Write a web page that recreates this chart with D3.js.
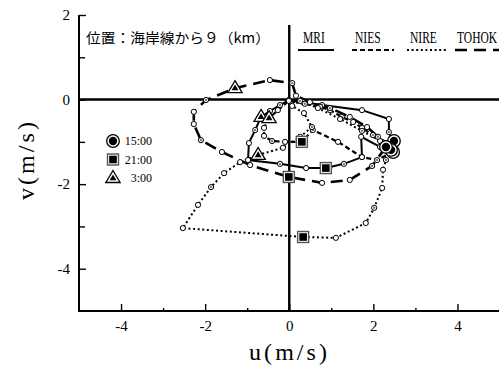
<!DOCTYPE html>
<html>
<head>
<meta charset="utf-8">
<script src="https://cdn.jsdelivr.net/npm/d3@7"></script>
<style>
  body { margin: 0; background: #fff; }
  text { font-family: "Liberation Serif", "DejaVu Serif", serif; fill: #000; }
</style>
</head>
<body>
<svg id="chart" width="499" height="381"></svg>
<script>
// hodograph data (u, v in m/s), hourly from 15:00
const seriesNames = ["MRI", "NIES", "NIRE", "TOHOK"];
const markTimes = ["15:00", "21:00", "3:00"];

const mriU = [2.49, 2.16, 1.71, 1.73, 1.30, 0.87, 0.40, -0.22, -0.98, -0.96, -0.81, -0.67, -0.46, -0.22, -0.01, 0.33, 0.78, 1.73, 2.37, 2.37, 2.44];
const mriV = [-0.98, -1.12, -0.88, -1.36, -1.52, -1.62, -1.62, -1.52, -1.43, -1.03, -0.72, -0.41, -0.27, -0.13, -0.01, -0.06, -0.13, -0.25, -0.46, -0.77, -0.96];
const mriMarks = [0, 5, 11];

const niesU = [2.47, 2.09, 1.73, 1.16, 0.56, 0.30, -0.10, -0.41, -0.60, -0.60, -0.48, -0.27, -0.01, 0.37, 0.73, 0.97, 1.25, 1.52, 1.73, 1.99, 2.21, 2.37];
const niesV = [-1.24, -1.43, -1.36, -1.00, -0.72, -1.00, -1.00, -0.98, -0.86, -0.67, -0.44, -0.25, -0.03, -0.10, -0.17, -0.25, -0.41, -0.53, -0.67, -0.84, -1.00, -1.17];
const niesMarks = [0, 5, 10];

const nireU = [2.42, 2.30, 2.23, 2.21, 2.02, 1.82, 1.11, 0.33, -2.53, -2.17, -1.86, -1.55, -1.17, -0.74, -0.15, 0.26, 0.54, 0.35, 0.07, 0.26, 0.68, 1.21, 1.73, 2.16];
const nireV = [-1.19, -1.43, -1.66, -2.09, -2.56, -2.92, -3.27, -3.25, -3.04, -2.49, -2.07, -1.74, -1.48, -1.31, -1.14, -0.88, -0.65, -0.32, -0.15, -0.03, -0.20, -0.46, -0.74, -0.98];
const nireMarks = [0, 7, 13];

const tohokU = [2.30, 1.97, 1.44, 0.78, -0.01, -0.93, -1.60, -2.10, -2.27, -2.27, -1.98, -1.29, -0.46, 0.07, 0.16, 0.49, 0.97, 1.44, 1.85, 2.11, 2.25];
const tohokV = [-1.12, -1.57, -1.90, -1.97, -1.83, -1.55, -1.24, -0.96, -0.58, -0.29, -0.01, 0.27, 0.46, 0.39, 0.09, -0.06, -0.20, -0.41, -0.65, -0.88, -1.07];
const tohokMarks = [0, 4, 11];

const xTicks = [-4, -2, 0, 2, 4];
const xMinor = [-3, -1, 1, 3];
const yTicks = [2, 0, -2, -4];
const yMinor = [1, -1, -3];

const svg = d3.select("#chart");

const x = d3.scaleLinear().domain([-5, 5]).range([79, 499.5]);
const y = d3.scaleLinear().domain([-5, 2]).range([311, 15]);

const dashes = { MRI: null, NIES: "5,3", NIRE: "2,2.6", TOHOK: "12,7" };
const widths = { MRI: 2, NIES: 2.2, NIRE: 2, TOHOK: 2.6 };

const series = [
  { name: "MRI", u: mriU, v: mriV, marks: mriMarks },
  { name: "NIES", u: niesU, v: niesV, marks: niesMarks },
  { name: "NIRE", u: nireU, v: nireV, marks: nireMarks },
  { name: "TOHOK", u: tohokU, v: tohokV, marks: tohokMarks }
].map(s => ({ ...s, pts: s.u.map((d, i) => ({ u: d, v: s.v[i], i: i })) }));

const fmt = d => String(d);

// axes
const gx = svg.append("g").attr("transform", "translate(0,311)")
  .call(d3.axisBottom(x).tickValues(xTicks).tickSize(-7).tickPadding(9).tickFormat(fmt));
const gx2 = svg.append("g").attr("transform", "translate(0,311)")
  .call(d3.axisBottom(x).tickValues(xMinor).tickSize(-3).tickFormat(""));

const gy = svg.append("g").attr("transform", "translate(79,0)")
  .call(d3.axisLeft(y).tickValues(yTicks).tickSize(-7).tickPadding(9).tickFormat(fmt));
const gy2 = svg.append("g").attr("transform", "translate(79,0)")
  .call(d3.axisLeft(y).tickValues(yMinor).tickSize(-6).tickFormat(""));

svg.selectAll(".domain").remove();
svg.selectAll(".tick line").attr("stroke", "#000").attr("stroke-width", 1.4);
[gx, gy].forEach(g => g.selectAll(".tick text")
  .style("font-family", "'Liberation Serif', serif")
  .style("font-size", "15px"));

// frame lines
svg.append("line").attr("x1", x(-5)).attr("x2", x(-5)).attr("y1", y(2)).attr("y2", y(-5))
  .attr("stroke", "#000").attr("stroke-width", 2);
svg.append("line").attr("x1", x(-5) - 1).attr("x2", x(5)).attr("y1", y(-5)).attr("y2", y(-5))
  .attr("stroke", "#000").attr("stroke-width", 2);
// zero lines
svg.append("line").attr("x1", x(-5)).attr("x2", x(5)).attr("y1", y(0)).attr("y2", y(0))
  .attr("stroke", "#000").attr("stroke-width", 2.4);
svg.append("line").attr("x1", x(0)).attr("x2", x(0)).attr("y1", 25).attr("y2", y(-5))
  .attr("stroke", "#000").attr("stroke-width", 2.4);

// lines
const line = d3.line().x(d => x(d.u)).y(d => y(d.v));
svg.append("g").selectAll("path")
  .data(series)
  .enter()
  .append("path")
  .attr("d", d => line(d.pts))
  .attr("fill", "none")
  .attr("stroke", "#000")
  .attr("stroke-width", d => widths[d.name])
  .attr("stroke-dasharray", d => dashes[d.name]);

// small hourly circles
series.forEach(s => {
  const small = s.pts.filter(p => s.marks.indexOf(p.i) < 0);
  const g = svg.append("g");
  g.selectAll("circle")
    .data(small)
    .enter()
    .append("circle")
    .attr("cx", d => x(d.u))
    .attr("cy", d => y(d.v))
    .attr("r", 2.6)
    .attr("fill", "#fff")
    .attr("stroke", "#000")
    .attr("stroke-width", 1);
  g.selectAll("circle.dot")
    .data(small.filter(d => d.i % 3 == 1))
    .enter()
    .append("circle")
    .attr("cx", d => x(d.u))
    .attr("cy", d => y(d.v))
    .attr("r", 1.2)
    .attr("fill", "#777");
});

function drawMark(g, k, cx, cy) {
  if (k == 0) {
    g.append("circle").attr("cx", cx).attr("cy", cy).attr("r", 6.3)
      .attr("fill", "#fff").attr("stroke", "#000").attr("stroke-width", 1.3);
    g.append("circle").attr("cx", cx).attr("cy", cy).attr("r", 4.2).attr("fill", "#000");
  } else if (k == 1) {
    g.append("rect").attr("x", cx - 5.5).attr("y", cy - 5.5).attr("width", 11).attr("height", 11)
      .attr("fill", "#fff").attr("stroke", "#555").attr("stroke-width", 1.4);
    g.append("rect").attr("x", cx - 3.8).attr("y", cy - 3.8).attr("width", 7.6).attr("height", 7.6)
      .attr("fill", "#000");
  } else {
    const tri = (r) => `M${cx},${cy - r}L${cx + r * 0.95},${cy + r * 0.6}L${cx - r * 0.95},${cy + r * 0.6}Z`;
    g.append("path").attr("d", tri(7.5)).attr("fill", "#fff").attr("stroke", "#000").attr("stroke-width", 1.3);
    g.append("path").attr("d", tri(3.6)).attr("fill", "#000");
  }
}

// time markers
const gm = svg.append("g");
series.forEach(s => {
  s.marks.forEach((idx, k) => {
    const p = s.pts[idx];
    drawMark(gm, k, x(p.u), y(p.v));
  });
});

// marker legend
const gl = svg.append("g");
markTimes.forEach((t, k) => {
  const cy = 141 + k * 18.5;
  drawMark(gl, k, 113, cy);
  gl.append("text").attr("x", 152).attr("y", cy + 4)
    .attr("text-anchor", "end")
    .style("font-size", "12px")
    .text(t);
});

// line legend (condensed text)
const legX = [298, 352, 407, 455];
const legW = [36, 42, 40, 44];
const legTx = [303, 355, 410, 457];
seriesNames.forEach((n, i) => {
  svg.append("text")
    .attr("transform", `translate(${legTx[i]},43) scale(0.72,1)`)
    .style("font-size", "16px")
    .text(n);
  svg.append("line")
    .attr("x1", legX[i]).attr("x2", legX[i] + legW[i])
    .attr("y1", 50).attr("y2", 50)
    .attr("stroke", "#000")
    .attr("stroke-width", widths[n])
    .attr("stroke-dasharray", dashes[n]);
});

// title
svg.append("text")
  .attr("x", 86).attr("y", 43)
  .attr("textLength", 184)
  .attr("lengthAdjust", "spacingAndGlyphs")
  .style("font-family", "'Noto Sans CJK JP', sans-serif")
  .style("font-size", "14px")
  .text("位置：海岸線から９（km）");

// axis titles
svg.append("text")
  .attr("x", 288).attr("y", 360)
  .attr("text-anchor", "middle")
  .attr("textLength", 78)
  .attr("lengthAdjust", "spacing")
  .style("font-size", "24px")
  .text("u(m/s)");

svg.append("text")
  .attr("transform", "translate(34,161) rotate(-90)")
  .attr("text-anchor", "middle")
  .attr("textLength", 78)
  .attr("lengthAdjust", "spacing")
  .style("font-size", "24px")
  .text("v(m/s)");
</script>
</body>
</html>
